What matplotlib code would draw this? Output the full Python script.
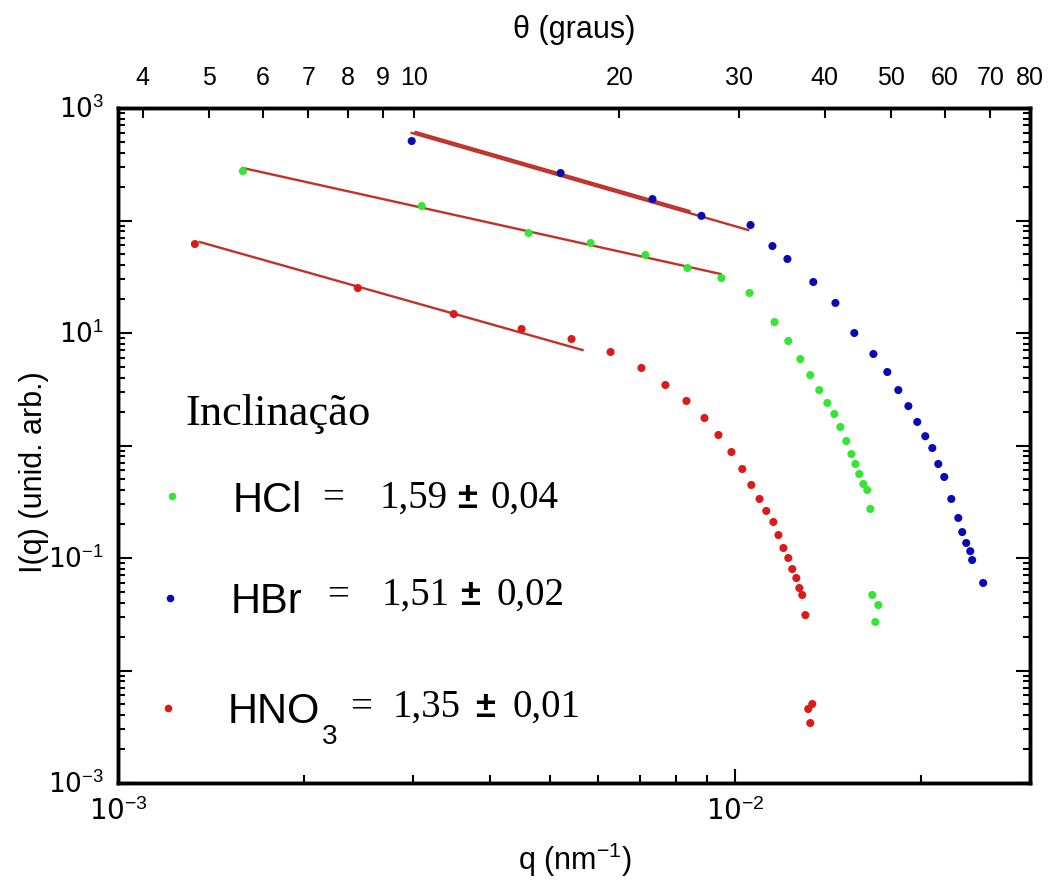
import matplotlib
matplotlib.use("Agg")
import matplotlib.pyplot as plt
from matplotlib.ticker import LogLocator, NullFormatter, NullLocator

plt.rcParams['mathtext.fontset'] = 'custom'
plt.rcParams['mathtext.rm'] = 'Liberation Sans'
plt.rcParams['mathtext.it'] = 'Liberation Sans:italic'
plt.rcParams['mathtext.bf'] = 'Liberation Sans:bold'

SANS = ['Liberation Sans', 'DejaVu Sans']
SERIF = ['Liberation Serif', 'DejaVu Serif']

# HCl (verde)
q_hcl = [1.593e-3, 3.104e-3, 4.624e-3, 5.827e-3, 7.150e-3, 8.363e-3, 9.490e-3,
         1.054e-2, 1.157e-2, 1.218e-2, 1.274e-2, 1.322e-2, 1.367e-2, 1.409e-2,
         1.446e-2, 1.479e-2, 1.512e-2, 1.541e-2, 1.564e-2, 1.587e-2, 1.611e-2,
         1.635e-2, 1.654e-2, 1.666e-2, 1.704e-2, 1.685e-2]
i_hcl = [275, 134.6, 77.4, 63.1, 49.4, 37.8, 30.8, 22.7, 12.5, 8.49, 5.87, 4.23,
         3.11, 2.39, 1.905, 1.46, 1.096, 0.840, 0.685, 0.558, 0.455, 0.402, 0.273,
         0.0469, 0.0382, 0.0270]

# HBr (azul)
q_hbr = [2.99e-3, 5.21e-3, 7.34e-3, 8.81e-3, 1.058e-2, 1.148e-2, 1.214e-2,
         1.337e-2, 1.452e-2, 1.558e-2, 1.673e-2, 1.762e-2, 1.836e-2, 1.906e-2,
         1.970e-2, 2.030e-2, 2.084e-2, 2.131e-2, 2.179e-2, 2.237e-2, 2.296e-2,
         2.330e-2, 2.365e-2, 2.401e-2, 2.418e-2, 2.519e-2]
i_hbr = [509, 264, 155, 110, 91.2, 59.3, 45.5, 28.4, 18.5, 10.0, 6.51, 4.50, 3.11,
         2.24, 1.62, 1.21, 0.950, 0.685, 0.525, 0.335, 0.227, 0.170, 0.136, 0.115,
         0.0960, 0.0600]

# HNO3 (vermelho)
q_hno3 = [1.332e-3, 2.446e-3, 3.498e-3, 4.505e-3, 5.427e-3, 6.277e-3, 7.044e-3,
          7.702e-3, 8.331e-3, 8.910e-3, 9.386e-3, 9.852e-3, 1.026e-2, 1.061e-2,
          1.094e-2, 1.122e-2, 1.152e-2, 1.174e-2, 1.196e-2, 1.218e-2, 1.236e-2,
          1.255e-2, 1.269e-2, 1.283e-2, 1.298e-2, 1.312e-2, 1.332e-2, 1.322e-2]
i_hno3 = [61.8, 25.1, 14.75, 10.85, 8.84, 6.78, 4.89, 3.45, 2.49, 1.755, 1.24,
          0.875, 0.618, 0.446, 0.335, 0.262, 0.209, 0.160, 0.1227, 0.100, 0.0798,
          0.0664, 0.0541, 0.0469, 0.0311, 0.00455, 0.00504, 0.00341]

# retas de ajuste (lei de potencia)
q_fit_hbr_a = [2.99e-3, 1.049e-2]
i_fit_hbr_a = [600, 82.3]
q_fit_hbr_b = [3.035e-3, 8.425e-3]
i_fit_hbr_b = [612, 121.5]
q_fit_hcl = [1.593e-3, 9.456e-3]
i_fit_hcl = [293, 33.5]
q_fit_hno3 = [1.357e-3, 5.654e-3]
i_fit_hno3 = [64.4, 7.06]

theta_ticks = [4, 5, 6, 7, 8, 9, 10, 20, 30, 40, 50, 60, 70, 80]
y_ticks = [1e-3, 1e-2, 1e-1, 1e0, 1e1, 1e2, 1e3]
y_labels = ['10$^{-3}$', '', '10$^{-1}$', '', '10$^{1}$', '', '10$^{3}$']
x_ticks = [1e-3, 1e-2]
x_labels = ['10$^{-3}$', '10$^{-2}$']

names = ['HCl', 'HBr', 'HNO']
slopes = ['1,59', '1,51', '1,35']
errors = ['0,04', '0,02', '0,01']

green = '#33e633'
blue = '#0a0ab4'
red = '#dc1a1a'
fitc = '#c0312c'

W, H = 1049, 891
fig = plt.figure(figsize=(W / 100, H / 100), dpi=100)
ax = fig.add_axes([118 / W, 1 - 783 / H, 912 / W, 675 / H])
ax.set_xscale('log')
ax.set_yscale('log')
ax.set_xlim(1e-3, 3e-2)
ax.set_ylim(1e-3, 1e3)

for qf, yf in [(q_fit_hbr_a, i_fit_hbr_a), (q_fit_hbr_b, i_fit_hbr_b),
               (q_fit_hcl, i_fit_hcl), (q_fit_hno3, i_fit_hno3)]:
    ax.plot(qf, yf, color=fitc, lw=1.7, zorder=2)

ax.scatter(q_hcl, i_hcl, s=34, color=green, edgecolors='none', zorder=3)
ax.scatter(q_hbr, i_hbr, s=34, color=blue, edgecolors='none', zorder=3)
ax.scatter(q_hno3, i_hno3, s=34, color=red, edgecolors='none', zorder=3)

ax.set_xticks(x_ticks)
ax.set_xticklabels(x_labels, fontsize=20)
ax.xaxis.set_minor_locator(LogLocator(base=10, subs=range(2, 10)))
ax.xaxis.set_minor_formatter(NullFormatter())
ax.set_yticks(y_ticks)
ax.set_yticklabels(y_labels, fontsize=19)
ax.yaxis.set_minor_locator(LogLocator(base=10, subs=range(2, 10), numticks=20))
ax.yaxis.set_minor_formatter(NullFormatter())

ax.tick_params(which='both', direction='in', top=False, right=True, width=1.5)
ax.tick_params(axis='x', which='major', length=10, pad=11)
ax.tick_params(axis='x', which='minor', length=6)
ax.tick_params(axis='y', which='major', length=10, pad=10)
ax.tick_params(axis='y', which='minor', length=5)
for sp in ax.spines.values():
    sp.set_linewidth(2.5)

ax.set_xlabel('q (nm$^{-1}$)', fontsize=22, fontfamily=SANS, va='center')
ax.xaxis.set_label_coords(0.501, -0.114)
ax.set_ylabel('I(q) (unid. arb.)', fontsize=22, fontfamily=SANS, va='center')
ax.yaxis.set_label_coords(-0.092, 0.46)

# eixo superior em theta
ax2 = ax.twiny()
ax2.set_xscale('log')
ax2.set_xlim(3.68, 80)
ax2.set_xticks(theta_ticks)
ax2.set_xticklabels([str(t) for t in theta_ticks], fontsize=18, fontfamily=SANS)
ax2.xaxis.set_minor_locator(NullLocator())
ax2.tick_params(direction='in', length=7, width=1.5, pad=13)
for sp in ax2.spines.values():
    sp.set_linewidth(2.5)
ax2.set_xlabel('\u03b8 (graus)', fontsize=22, fontfamily=SANS, va='center')
ax2.xaxis.set_label_coords(0.5, 1.116)


def fx(x, y):
    return x / W, 1 - y / H


# legenda
fig.text(*fx(185, 425), 'Inclina\u00e7\u00e3o', fontsize=32, fontfamily=SERIF)
dots = [(172, 496, green), (170, 598, blue), (168, 708, red)]
rows = [(233, 512, 322, 380, 508, 457, 490),
        (231, 613, 327, 382, 605, 460, 497),
        (228, 723, 350, 393, 717, 475, 512)]
for k in range(3):
    dx, dy, c = dots[k]
    fig.lines.append(plt.Line2D([dx / W], [1 - dy / H], marker='o', ms=5.5,
                                color=c, mec='none', transform=fig.transFigure))
    nx, ny, ex, sx, sy, px, vx = rows[k]
    name = fig.text(*fx(nx, ny), names[k], fontsize=30, fontfamily=SANS)
    fig.text(*fx(ex, sy), '=', fontsize=28, fontfamily=SERIF)
    fig.text(*fx(sx, sy), slopes[k], fontsize=28, fontfamily=SERIF)
    fig.text(*fx(px, sy), '\u00b1', fontsize=26, fontweight='bold', fontfamily=SANS)
    fig.text(*fx(vx, sy), errors[k], fontsize=28, fontfamily=SERIF)
    if k == 2:
        ax.annotate('3', xy=(1, 0), xycoords=name, xytext=(1, 6),
                    textcoords='offset points', fontsize=20, fontfamily=SANS,
                    va='top', ha='left')

fig.savefig('out.png', dpi=100)
